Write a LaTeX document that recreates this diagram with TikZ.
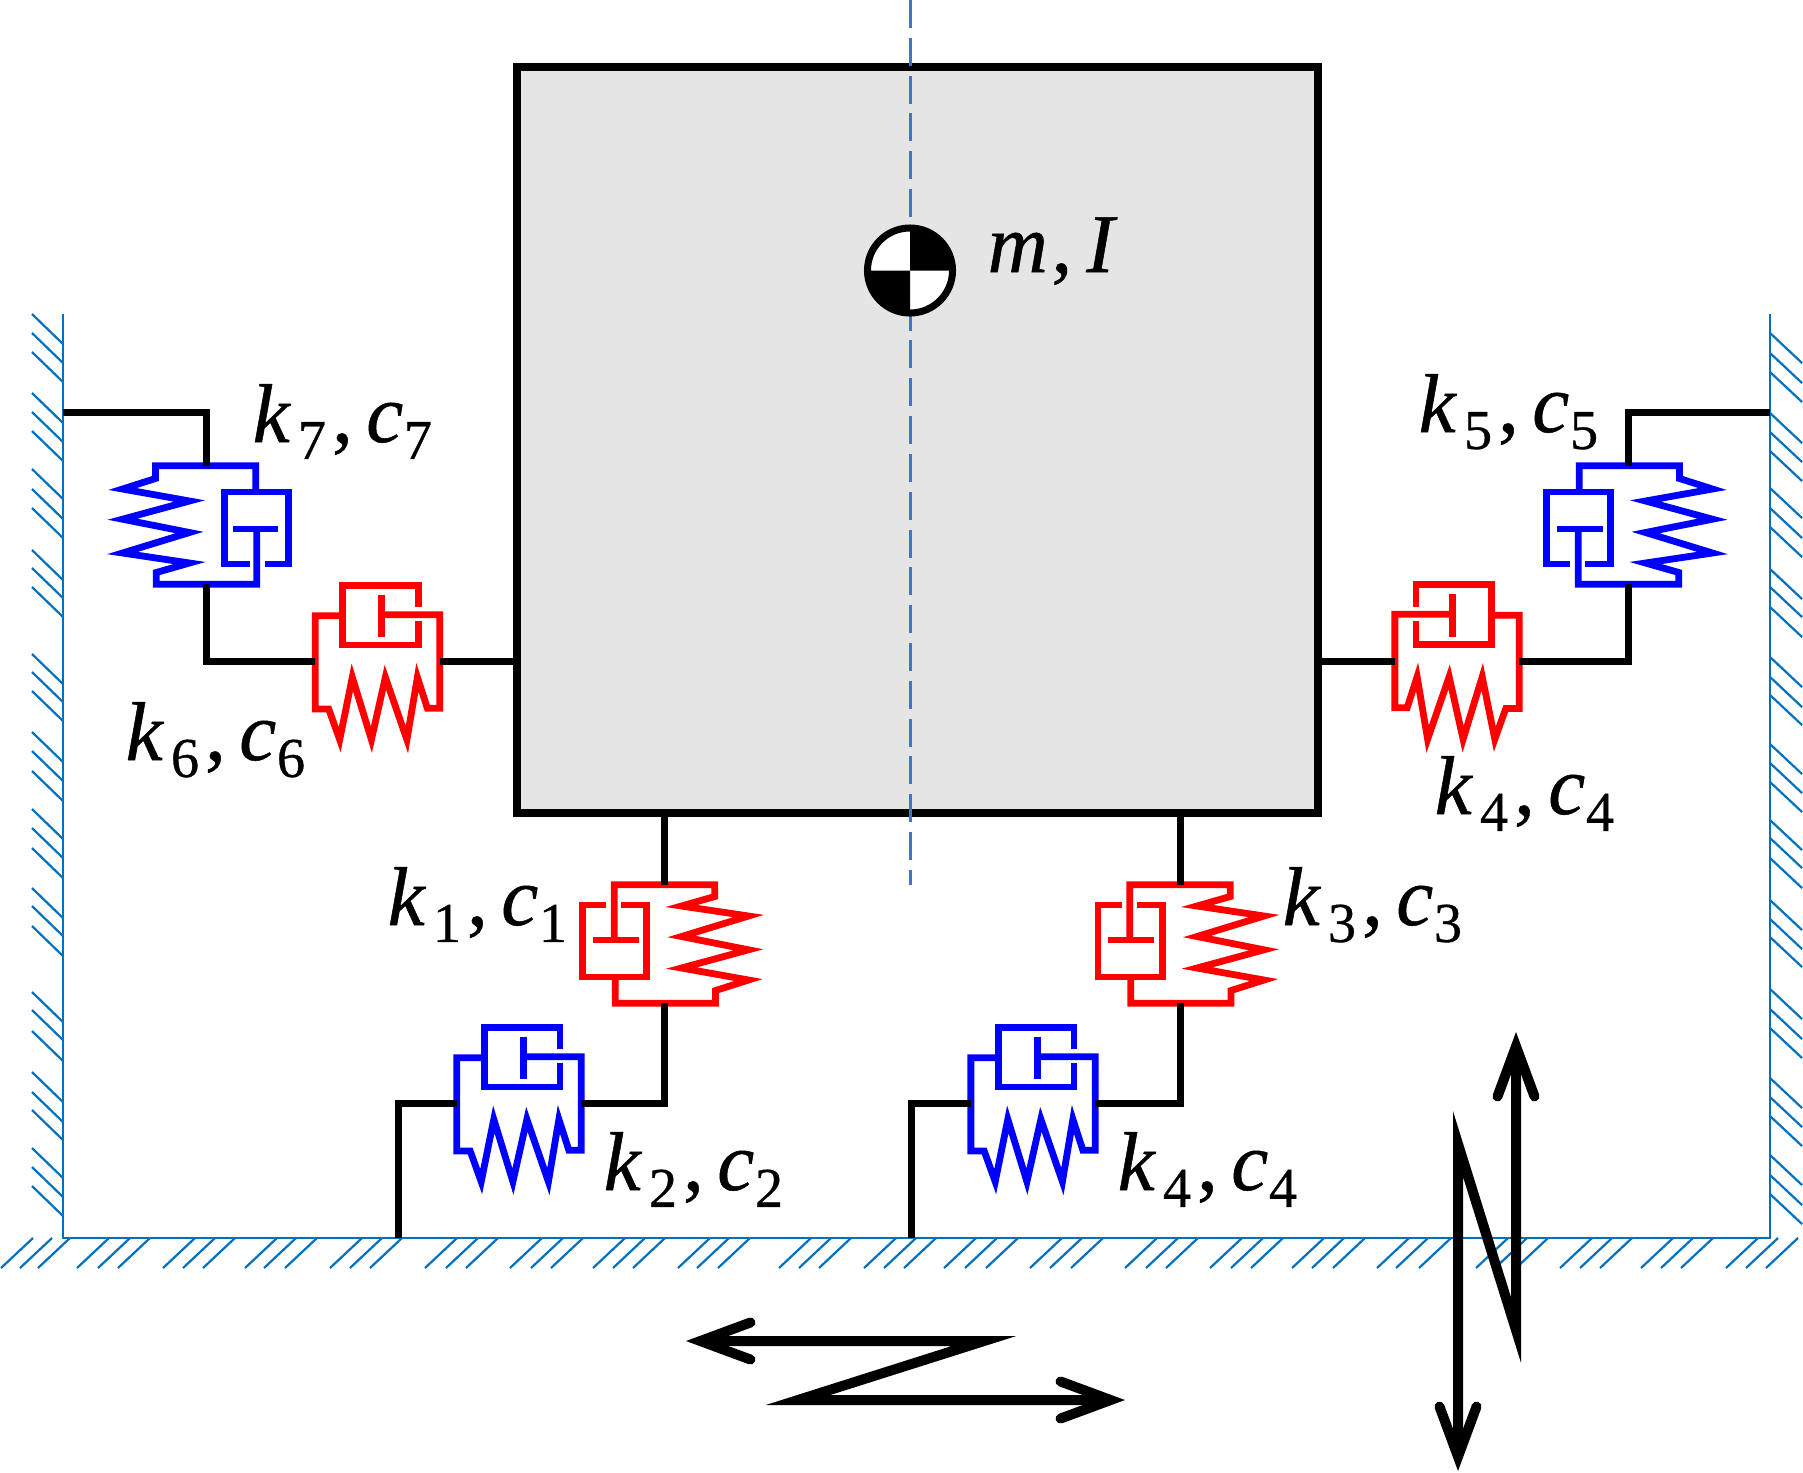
\documentclass[tikz,border=0pt]{standalone}
\usepackage{fontspec}
\usetikzlibrary{arrows.meta}
\newfontfamily\symfont[FakeBold=0.6]{Liberation Serif}

\definecolor{wallblue}{HTML}{0070C0}
\definecolor{axisblue}{HTML}{4472C4}
\definecolor{massgray}{HTML}{E5E5E5}

\newcommand{\idx}[1]{\lower4.8pt\hbox{\fontsize{16}{16}\selectfont\upshape #1}}
\newcommand{\kc}[1]{\textit{k}\kern2pt\idx{#1}\kern1.7pt,\kern3.8pt\textit{c}\kern.2pt\idx{#1}}

\tikzset{
  pics/absorber/.style={code={
    \draw[line width=.068cm,draw=#1] (-50.3,-4) -- (-50.3,-59.2) -- (50.3,-59.2) -- (50.3,-47.5) -- (17,-38) -- (84,-28) -- (17,-7.5) -- (84,5.8) -- (17,24) -- (84,36) -- (51,46.5) -- (51,59.2) -- (-49.3,59.2) -- (-49.3,33);
    \draw[line width=.068cm,draw=#1] (-71.7,-4) -- (-26,-4);
    \draw[line width=.068cm,draw=#1] (-58.3,-39) -- (-82,-39) -- (-82,33) -- (-17.7,33) -- (-17.7,-39) -- (-43.3,-39);
    \coordinate (-a) at (0,-59.2);
    \coordinate (-z) at (0,59.2);
  }}
}

\begin{document}
\begin{tikzpicture}[x=.01cm,y=-.01cm,line join=miter,>={Straight Barb[length=.5cm,width=.37cm,line width=.1cm,line cap=round,line join=miter]}]
\tikzstyle{wire}=[draw=black,line width=.07cm]
\tikzstyle{hatch}=[draw=wallblue,line width=.022cm]
\tikzstyle{wall}=[draw=wallblue,line width=.026cm]
\tikzstyle{zigzag}=[draw=black,line width=.1cm,<->]
\tikzstyle{term}=[anchor=base west,inner sep=0pt,font=\symfont\fontsize{23.7}{28}\selectfont]

\useasboundingbox (0,0) rectangle (1803,1472);

\node[draw=black,fill=massgray,line width=.075cm,inner sep=0pt,outer sep=0pt,minimum width=8.01cm,minimum height=7.46cm] (M) at (917.5,440) {};
\coordinate (axisT) at (910,0);
\coordinate (axisB) at (910,885);
\draw[draw=axisblue,line width=.03cm,dash pattern=on .28cm off .098cm] (axisT) -- (axisB);

\node[circle,draw=black,fill=white,line width=.07cm,inner sep=0pt,outer sep=0pt,minimum size=.85cm] (G) at (910,270.5) {};
\fill (G.center) -- (G.east) arc (0:90:.425cm) -- cycle;
\fill (G.center) -- (G.west) arc (180:270:.425cm) -- cycle;
\node[term] (Lm) at (987,272) {\textit{m}\kern1pt,\kern4pt\textit{I}};

\coordinate (wallLT) at (63,314);
\coordinate (wallLB) at (63,1238);
\coordinate (wallRB) at (1770,1238);
\coordinate (wallRT) at (1770,314);
\draw[wall] (wallLT) -- (wallLB) -- (wallRB) -- (wallRT);

\foreach \q in {344,363,382,423,442,461,499,519,538,580,598,617,684,702,721,762,781,801,839,858,878,918,936,956,1022,1040,1061,1102,1122,1140,1178,1197,1216}
  \draw[hatch] (63,\q) -- ++(-31,-30);
\foreach \q in {333,353,372,413,432,451,488,508,527,569,587,607,657,677,695,744,763,782,820,838,858,900,919,937,989,1009,1028,1078,1097,1116,1155,1175,1194}
  \draw[hatch] (1770,\q) -- ++(32,30);
\foreach \q in {33,52,70,109,130,150,195,215,235,277,296,317,362,382,402,457,478,498,542,563,583,625,645,665,710,729,750,811,831,851,896,916,936,976,997,1018,1062,1082,1103,1157,1178,1198,1242,1263,1283,1324,1344,1365,1409,1428,1451,1508,1527,1548,1592,1612,1632,1673,1693,1713,1758,1778,1798}
  \draw[hatch] (\q,1238) -- ++(-32,30);

\pic (U1) at (664.5,944) {absorber=red};
\pic (U3) at (1180,944) {absorber=red};
\pic (U2) at (519,1103.5) [rotate=-90,xscale=.93,yscale=1.05] {absorber=blue};
\pic (U8) at (1033,1103.5) [rotate=-90,xscale=.93,yscale=1.05] {absorber=blue};
\pic (U7) at (206.5,525) [rotate=180] {absorber=blue};
\pic (U5) at (1628.5,525) [yscale=-1] {absorber=blue};
\pic (U6) at (377.5,661.5) [rotate=-90,xscale=.93,yscale=1.05] {absorber=red};
\pic (U4) at (1457,661) [xscale=-1,rotate=-90,xscale=.93,yscale=1.05] {absorber=red};

\coordinate (anchorL) at (63,412);
\coordinate (anchorR) at (1770,412);
\coordinate (floorA) at (398,1238);
\coordinate (floorB) at (911,1238);

\draw[wire] (anchorL) -| (U7-z);
\draw[wire] (U7-a) |- (U6-z);
\draw[wire] (U6-a) -- (U6-a -| M.west);
\draw[wire] (U4-a -| M.east) -- (U4-a);
\draw[wire] (U4-z) -| (U5-a);
\draw[wire] (U5-z) |- (anchorR);
\draw[wire] (U1-a |- M.south) -- (U1-a);
\draw[wire] (U3-a |- M.south) -- (U3-a);
\draw[wire] (U1-z) |- (U2-a);
\draw[wire] (U3-z) |- (U8-a);
\draw[wire] (U2-z) -| (floorA);
\draw[wire] (U8-z) -| (floorB);

\node[term] (L1) at (387,925) {\kc{1}};
\node[term] (L2) at (603,1190) {\kc{2}};
\node[term] (L3) at (1282,925) {\kc{3}};
\node[term] (L8) at (1117,1190) {\kc{4}};
\node[term] (L4) at (1434,814) {\kc{4}};
\node[term] (L5) at (1418,432) {\kc{5}};
\node[term] (L6) at (125,760) {\kc{6}};
\node[term] (L7) at (252,442) {\kc{7}};

\coordinate (ha) at (686,1341);
\coordinate (hb) at (984,1341);
\coordinate (hc) at (798,1400);
\coordinate (hd) at (1125,1400);
\draw[zigzag] (ha) -- (hb) -- (hc) -- (hd);

\coordinate (va) at (1458,1471);
\coordinate (vb) at (1458,1144);
\coordinate (vc) at (1516,1330);
\coordinate (vd) at (1516,1032);
\draw[zigzag] (va) -- (vb) -- (vc) -- (vd);
\end{tikzpicture}
\end{document}
